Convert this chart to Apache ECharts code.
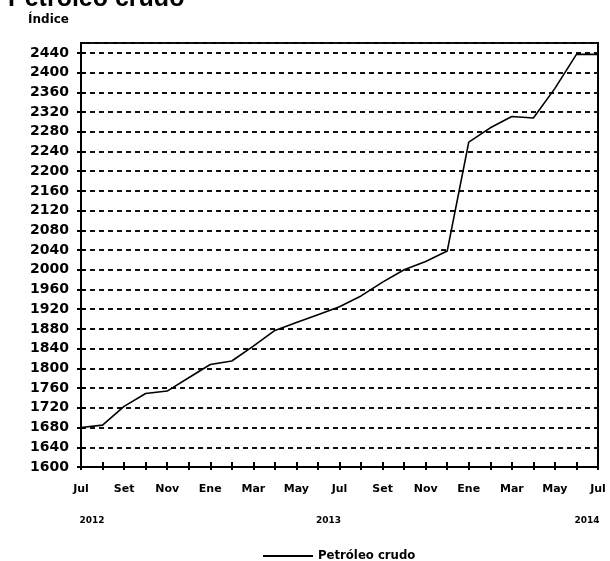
<!DOCTYPE html>
<html>
<head>
<meta charset="utf-8">
<script src="https://cdn.jsdelivr.net/npm/echarts@6/dist/echarts.min.js"></script>
<style>
html,body{margin:0;padding:0;background:#fff;}
#c{width:610px;height:561px;}
</style>
</head>
<body>
<div id="c"></div>
<script>
const categories = ['Jul 2012','Ago 2012','Set 2012','Oct 2012','Nov 2012','Dic 2012',
  'Ene 2013','Feb 2013','Mar 2013','Abr 2013','May 2013','Jun 2013',
  'Jul 2013','Ago 2013','Set 2013','Oct 2013','Nov 2013','Dic 2013',
  'Ene 2014','Feb 2014','Mar 2014','Abr 2014','May 2014','Jun 2014','Jul 2014'];
const petroleoCrudo = [1680,1685,1723,1749,1754,1781,
  1808,1815,1845,1877,1893,1909,
  1925,1947,1975,2000,2017,2038,
  2259,2288,2311,2308,2368,2437,2437];
const yearTickIndex = [0,12,24];
const yearTickLabels = ['2012','2013','2014'];
const seriesName = 'Petróleo crudo';
const titleText = 'Petróleo crudo';
const yAxisName = 'Índice';

const chart = echarts.init(document.getElementById('c'), null, {renderer:'canvas'});
const option = {
  animation:false,
  backgroundColor:'#fff',
  title:{
    text:titleText, left:8, top:-13, padding:0,
    textStyle:{fontFamily:'Liberation Sans', fontWeight:'bold', fontSize:25, color:'#000'}
  },
  legend:{
    data:[{name:seriesName, icon:'rect'}], left:263, top:550, itemWidth:50, itemHeight:2, itemGap:5, padding:0,
    textStyle:{fontFamily:'DejaVu Sans', fontSize:11.7, fontWeight:'bold', color:'#000', padding:[0,0,0,0]}
  },
  grid:{left:81, right:12, top:43, bottom:94, show:true, borderColor:'#000', borderWidth:2, containLabel:false, outerBoundsMode:'none'},
  xAxis:[{
    type:'category', data:categories, boundaryGap:false,
    axisLine:{show:true, lineStyle:{color:'#000', width:2}},
    axisTick:{show:true, interval:0, length:3, inside:false, lineStyle:{color:'#000', width:2}},
    axisLabel:{
      interval:1, margin:14, color:'#000', fontFamily:'DejaVu Sans', fontWeight:'bold', fontSize:11, lineHeight:16,
      formatter:function(v, i){
        const m = v.split(' ')[0];
        const k = yearTickIndex.indexOf(i);
        if (k >= 0) return m + '\n\n{' + (k === 0 ? 'yl' : 'yr') + '|' + yearTickLabels[k] + '}';
        return m;
      },
      rich:{
        yl:{fontFamily:'DejaVu Sans', fontWeight:'bold', fontSize:9, lineHeight:16, color:'#000', padding:[0,0,0,22]},
        yr:{fontFamily:'DejaVu Sans', fontWeight:'bold', fontSize:9, lineHeight:16, color:'#000', padding:[0,22,0,0]}
      }
    },
    splitLine:{show:false}
  },{
    type:'category', data:categories, boundaryGap:false, position:'bottom',
    axisLine:{show:false},
    axisTick:{show:true, interval:0, length:5, inside:true, lineStyle:{color:'#000', width:2}},
    axisLabel:{show:false}, splitLine:{show:false}
  }],
  yAxis:[{
    type:'value', min:1600, max:2460, interval:40,
    name:yAxisName, nameLocation:'end', nameGap:17,
    nameTextStyle:{fontFamily:'DejaVu Sans', fontWeight:'bold', fontSize:12, color:'#000', align:'right', padding:[0,12,0,0]},
    axisLine:{show:true, lineStyle:{color:'#000', width:2}},
    axisTick:{show:true, length:4, lineStyle:{color:'#000', width:2}},
    axisLabel:{margin:12, color:'#000', fontFamily:'DejaVu Sans', fontWeight:'bold', fontSize:14, showMaxLabel:false,
      formatter:function(v){ return String(v); }},
    splitLine:{show:true, lineStyle:{color:'#111', width:2, type:[5,4]}}
  },{
    type:'value', min:1600, max:2460, interval:40, position:'left',
    axisLine:{show:false},
    axisTick:{show:true, inside:true, length:4, lineStyle:{color:'#000', width:2}},
    axisLabel:{show:false}, splitLine:{show:false}
  }],
  series:[{
    name:seriesName, type:'line', data:petroleoCrudo, xAxisIndex:0, yAxisIndex:0,
    symbol:'none', showSymbol:false, smooth:false,
    lineStyle:{color:'#000', width:1.6}, itemStyle:{color:'#000'}
  }]
};
chart.setOption(option);
</script>
</body>
</html>
